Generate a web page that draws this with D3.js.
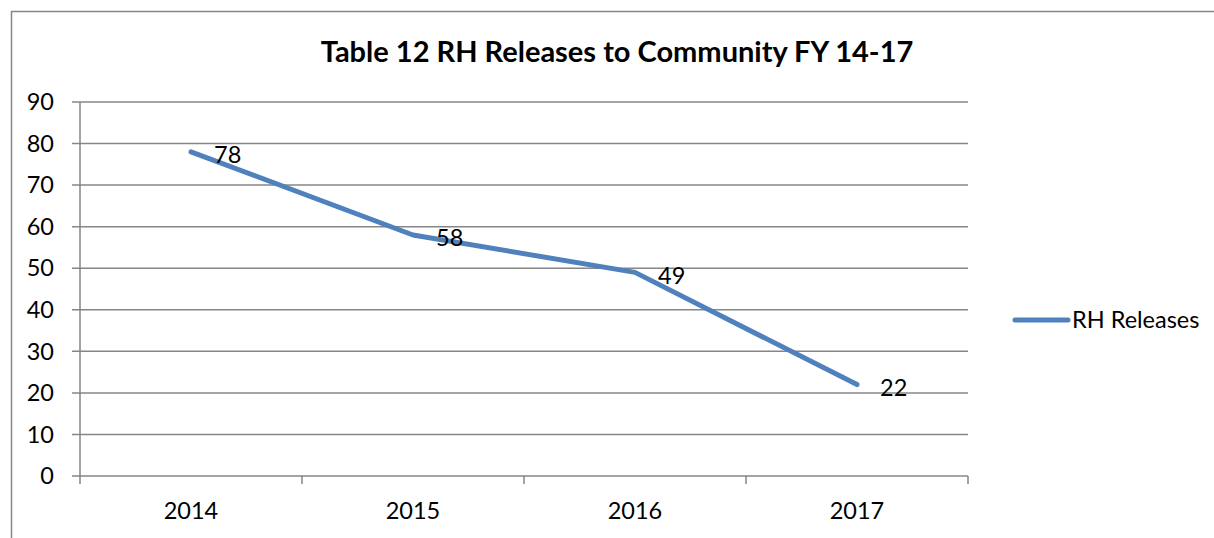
<!DOCTYPE html>
<html>
<head>
<meta charset="utf-8">
<script src="https://cdn.jsdelivr.net/npm/d3@7/dist/d3.min.js"></script>
<style>
  html, body { margin: 0; padding: 0; background: #fff; }
  svg { display: block; font-family: Lato, "Open Sans", sans-serif; }
</style>
</head>
<body>
<svg id="chart" width="1214" height="538"></svg>
<script>
const categories = ["2014", "2015", "2016", "2017"];
const seriesName = "RH Releases";
const values = [78, 58, 49, 22];
const yTicks = [0, 10, 20, 30, 40, 50, 60, 70, 80, 90];
const title = "Table 12 RH Releases to Community FY 14-17";

const svg = d3.select("#chart");
const gridColor = "#868686";
const lineColor = "#4F81BD";
const labelSize = 23.5;

// outer border
svg.append("rect")
  .attr("x", 11.5).attr("y", 11.5)
  .attr("width", 1212).attr("height", 540)
  .attr("fill", "none").attr("stroke", gridColor).attr("stroke-width", 1.5);

const x = d3.scaleBand().domain(categories).range([80, 968]).padding(0);
const y = d3.scaleLinear().domain([0, 90]).range([476, 102]);

// gridlines
svg.append("g").selectAll("line").data(yTicks).join("line")
  .attr("x1", 72).attr("x2", 968)
  .attr("y1", d => y(d)).attr("y2", d => y(d))
  .attr("stroke", gridColor).attr("stroke-width", 1.5);

// y axis line
svg.append("line")
  .attr("x1", 80).attr("x2", 80).attr("y1", y(90)).attr("y2", 484)
  .attr("stroke", gridColor).attr("stroke-width", 1.5);

// x tick marks at band boundaries
const bounds = categories.map(c => x(c)).concat([x(categories[categories.length - 1]) + x.bandwidth()]);
svg.append("g").selectAll("line").data(bounds.slice(1)).join("line")
  .attr("x1", d => d).attr("x2", d => d).attr("y1", 476).attr("y2", 484)
  .attr("stroke", gridColor).attr("stroke-width", 1.5);

// y tick labels
svg.append("g").selectAll("text").data(yTicks).join("text")
  .attr("x", 54).attr("y", d => y(d))
  .attr("dy", "0.35em")
  .attr("text-anchor", "end")
  .attr("font-size", labelSize).attr("fill", "#000")
  .text(d => d);

// x tick labels
svg.append("g").selectAll("text").data(categories).join("text")
  .attr("x", d => x(d) + x.bandwidth() / 2).attr("y", 519)
  .attr("text-anchor", "middle")
  .attr("font-size", labelSize).attr("fill", "#000")
  .text(d => d);

// line
const line = d3.line()
  .x((d, i) => x(categories[i]) + x.bandwidth() / 2)
  .y(d => y(d));
svg.append("path")
  .datum(values)
  .attr("d", line)
  .attr("fill", "none")
  .attr("stroke", lineColor)
  .attr("stroke-width", 5)
  .attr("stroke-linecap", "round")
  .attr("stroke-linejoin", "round");

// data labels
svg.append("g").selectAll("text").data(values).join("text")
  .attr("x", (d, i) => x(categories[i]) + x.bandwidth() / 2 + 23)
  .attr("y", d => y(d) + 3)
  .attr("dy", "0.35em")
  .attr("font-size", labelSize).attr("fill", "#000")
  .text(d => d);

// title
svg.append("text")
  .attr("x", 617).attr("y", 62)
  .attr("text-anchor", "middle")
  .attr("font-size", 29).attr("font-weight", "bold").attr("fill", "#000")
  .text(title);

// legend
svg.append("line")
  .attr("x1", 1015).attr("x2", 1068).attr("y1", 320).attr("y2", 320)
  .attr("stroke", lineColor).attr("stroke-width", 5).attr("stroke-linecap", "round");
svg.append("text")
  .attr("x", 1072).attr("y", 320).attr("dy", "0.35em")
  .attr("font-size", labelSize).attr("fill", "#000")
  .text(seriesName);
</script>
</body>
</html>
